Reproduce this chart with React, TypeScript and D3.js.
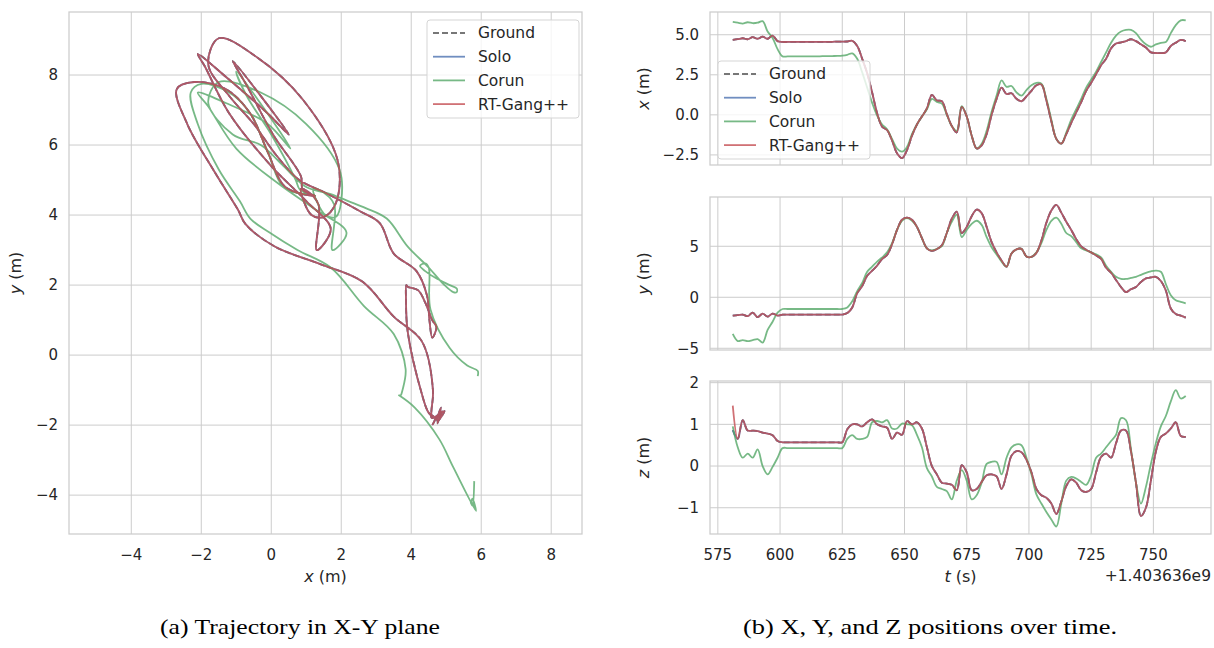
import * as d3 from "d3";

// samples every 2 s, t = 581 ... 763 (offset +1.403636e9)
const T_START = 581;
const T_STEP = 2;

const groundX = [
  4.68, 4.72, 4.78, 4.72, 4.85, 4.75, 4.88, 4.75, 4.95, 4.6,
  4.55, 4.55, 4.55, 4.55, 4.55, 4.55, 4.55, 4.55, 4.55, 4.56,
  4.56, 4.57, 4.57, 4.58, 4.62, 4.3, 3.5, 2.6, 1.4, 0.1,
  -0.74, -0.95, -1.6, -2.4, -2.7, -2.2, -1.3, -0.6, -0.1, 0.4,
  1.25, 0.9, 0.85, 0.05, -0.7, -1.1, 0.5, -0.1, -1.3, -2.1,
  -1.9, -1.2, 0.0, 1.0, 1.7, 1.3, 1.35, 1.0, 0.85, 1.15,
  1.5, 1.85, 1.9, 0.9, -0.4, -1.5, -1.8, -1.2, -0.5, 0.15,
  0.8, 1.5, 2.0, 2.55, 3.1, 3.5, 4.15, 4.45, 4.52, 4.6,
  4.72, 4.6, 4.4, 4.2, 3.9, 3.86, 3.85, 3.9, 4.3, 4.5,
  4.68, 4.6,
];
const groundY = [
  -1.8, -1.75, -1.7, -1.85, -1.5, -1.95, -1.6, -1.9, -1.6, -1.8,
  -1.7, -1.7, -1.7, -1.7, -1.7, -1.7, -1.7, -1.7, -1.7, -1.7,
  -1.7, -1.7, -1.7, -1.55, -1.0, 0.4, 1.1, 2.1, 2.6, 3.1,
  3.75, 4.15, 5.2, 6.6, 7.6, 7.8, 7.6, 6.9, 5.8, 4.8,
  4.55, 4.72, 5.1, 6.3, 7.7, 8.4, 6.3, 6.9, 7.95, 8.6,
  8.25, 6.9, 5.4, 4.4, 3.6, 3.0, 4.3, 4.7, 4.75, 4.0,
  3.95, 4.35, 5.55, 7.3, 8.5, 9.05, 8.3, 7.4, 6.6, 5.7,
  5.0, 4.66, 4.4, 4.1, 3.77, 2.9, 2.4, 1.7, 1.0, 0.5,
  0.8, 1.0, 1.5, 1.85, 1.95, 2.0, 1.6, 0.66, -1.1, -1.65,
  -1.8, -2.0,
];
const groundZ = [
  0.86, 0.65, 1.1, 0.85, 0.85, 0.84, 0.8, 0.78, 0.74, 0.6,
  0.57, 0.57, 0.57, 0.57, 0.57, 0.57, 0.57, 0.57, 0.57, 0.57,
  0.57, 0.57, 0.57, 0.88, 1.0, 1.0, 0.95, 1.05, 1.12, 1.0,
  0.95, 0.92, 0.65, 0.8, 0.75, 1.08, 1.0, 1.05, 0.9, 0.45,
  0.0, -0.2, -0.4, -0.42, -0.45, -0.58, 0.02, -0.15, -0.58, -0.55,
  -0.38, -0.22, -0.2, -0.25, -0.55, -0.2, 0.25, 0.36, 0.33, 0.15,
  -0.15, -0.55, -0.7, -0.76, -0.9, -1.15, -0.85, -0.48, -0.32, -0.4,
  -0.58, -0.62, -0.55, -0.15, 0.22, 0.3, 0.2, 0.55, 0.85, 0.85,
  0.35, -0.4, -1.2, -1.0, -0.35, 0.35, 0.7, 0.78, 0.9, 1.05,
  0.72, 0.7,
];

const corunX = [
  5.8, 5.75, 5.7, 5.78, 5.72, 5.75, 5.85, 5.2, 4.8, 4.1,
  3.65, 3.65, 3.65, 3.65, 3.65, 3.65, 3.65, 3.65, 3.66, 3.66,
  3.67, 3.68, 3.7, 3.75, 3.84, 3.5, 2.65, 1.7, 0.75, -0.05,
  -0.6, -0.9, -1.5, -2.1, -2.3, -2.0, -1.2, -0.6, -0.1, 0.35,
  1.0, 0.8, 0.7, 0.0, -0.7, -1.0, 0.55, -0.1, -1.3, -2.1,
  -1.8, -1.0, 0.2, 1.2, 2.15, 1.75, 1.8, 1.4, 1.2, 1.55,
  1.85, 2.0, 1.95, 1.0, -0.3, -1.5, -1.8, -1.1, -0.3, 0.35,
  1.0, 1.7, 2.2, 2.7, 3.3, 3.9, 4.5, 4.95, 5.2, 5.3,
  5.3, 5.1, 4.7, 4.4, 4.25, 4.4, 4.5, 4.55, 5.1, 5.6,
  5.9, 5.9,
];
const corunY = [
  -3.6, -4.3, -4.2, -4.3, -4.2, -4.1, -4.45, -3.2, -2.4, -1.5,
  -1.15, -1.15, -1.15, -1.15, -1.15, -1.15, -1.15, -1.15, -1.15, -1.15,
  -1.15, -1.15, -1.15, -1.0, -0.4, 0.6, 1.4, 2.5, 3.0, 3.5,
  3.9, 4.4, 5.3, 6.6, 7.5, 7.75, 7.5, 6.9, 5.8, 4.8,
  4.6, 4.75, 5.0, 6.3, 7.4, 8.1, 5.9, 6.6, 7.2, 7.5,
  7.1, 5.9, 4.9, 4.2, 3.5, 3.0, 4.3, 4.7, 4.75, 4.0,
  3.95, 4.4, 5.3, 6.6, 7.5, 7.8, 7.2, 6.3, 6.0, 5.4,
  4.8, 4.6, 4.4, 4.2, 3.9, 3.1, 2.5, 2.0, 1.8, 1.8,
  1.9, 2.0, 2.2, 2.4, 2.55, 2.62, 2.5, 1.3, 0.2, -0.3,
  -0.45, -0.6,
];
const corunZ = [
  0.95, 0.45, 0.2, 0.3, 0.2, 0.4, 0.0, -0.2, -0.02, 0.2,
  0.43, 0.43, 0.43, 0.43, 0.43, 0.43, 0.43, 0.43, 0.43, 0.43,
  0.43, 0.43, 0.43, 0.65, 0.74, 0.65, 0.65, 0.7, 1.05, 1.08,
  1.05, 1.1, 0.9, 0.9, 1.02, 1.0, 0.98, 0.75, 0.45, -0.05,
  -0.25, -0.5, -0.55, -0.6, -0.8, -0.35, -0.1, -0.35, -0.8, -0.7,
  -0.4, 0.05, 0.1, 0.1, -0.2, 0.2, 0.45, 0.52, 0.5, 0.2,
  -0.2, -0.68, -0.9, -1.1, -1.28, -1.45, -0.9, -0.35, -0.26, -0.3,
  -0.38, -0.45, -0.22, 0.2, 0.3, 0.45, 0.6, 0.75, 1.15, 1.1,
  0.4, -0.4, -0.9, -0.5, 0.05, 0.55, 0.95, 1.2, 1.55, 1.82,
  1.62, 1.68,
];

// Solo and RT-Gang++ follow the ground truth; RT-Gang++ has a spike at start in z
const soloX = groundX;
const soloY = groundY;
const soloZ = groundZ;
const rtgangX = groundX;
const rtgangY = groundY;
const rtgangZ = [1.45, ...groundZ.slice(1)];

const seriesNames = ["Ground", "Solo", "Corun", "RT-Gang++"];
const trajTicks = [-4, -2, 0, 2, 4, 6, 8];
const timeTicks = [575, 600, 625, 650, 675, 700, 725, 750];
const xPosTicks = [-2.5, 0, 2.5, 5];
const yPosTicks = [-5, 0, 5];
const zPosTicks = [-1, 0, 1, 2];

const GRID = "#cccccc";
const TEXT = "#262626";
const FONT = "DejaVu Sans, sans-serif";

const series = [
  { name: seriesNames[0], color: "#555555", dash: "6,3", x: groundX, y: groundY, z: groundZ },
  { name: seriesNames[1], color: "#4c72b0", dash: null, x: soloX, y: soloY, z: soloZ },
  { name: seriesNames[2], color: "#55a868", dash: null, x: corunX, y: corunY, z: corunZ },
  { name: seriesNames[3], color: "#c44e52", dash: null, x: rtgangX, y: rtgangY, z: rtgangZ },
];

const Legend = ({ x, y }: { x: number; y: number }) => (
  <g transform={`translate(${x},${y})`}>
    <rect width={152} height={98} rx={3} fill="white" fillOpacity={0.8} stroke="#d5d5d5" />
    {series.map((s, i) => (
      <g key={s.name} transform={`translate(0,${13 + i * 23.7})`}>
        <line x1={6} x2={38} stroke={s.color} strokeWidth={1.8} strokeOpacity={0.8}
          strokeDasharray={s.dash ?? undefined} />
        <text x={51} dy="0.35em" fontSize={15.5} fill={TEXT}>{s.name}</text>
      </g>
    ))}
  </g>
);

export default function App() {
  const times = groundX.map((_, i) => T_START + i * T_STEP);

  // (a) trajectory
  const L = { left: 69, right: 582, top: 12, bottom: 534 };
  const xs = d3.scaleLinear().domain([-5.78, 8.88]).range([L.left, L.right]);
  const ys = d3.scaleLinear().domain([-5.11, 9.8]).range([L.bottom, L.top]);
  const trajLine = d3.line<[number, number]>()
    .x(d => xs(d[0])).y(d => ys(d[1]))
    .curve(d3.curveCatmullRom.alpha(0.5));

  // (b) positions over time
  const R = { left: 710, right: 1211 };
  const ts = d3.scaleLinear().domain([571.85, 773.15]).range([R.left, R.right]);
  const panels = [
    { key: "x", label: "x", top: 12, bottom: 165, domain: [-3.13, 6.42], ticks: xPosTicks, fmt: d3.format(".1f") },
    { key: "y", label: "y", top: 197, bottom: 350, domain: [-5.17, 9.83], ticks: yPosTicks, fmt: d3.format("d") },
    { key: "z", label: "z", top: 381, bottom: 534, domain: [-1.63, 2.04], ticks: zPosTicks, fmt: d3.format("d") },
  ] as const;

  return (
    <svg width={1214} height={648} style={{ position: "absolute", left: 0, top: 0, background: "white" }}
      fontFamily={FONT}>
      <defs>
        <clipPath id="clip-a">
          <rect x={L.left} y={L.top} width={L.right - L.left} height={L.bottom - L.top} />
        </clipPath>
        {panels.map(p => (
          <clipPath key={p.key} id={`clip-${p.key}`}>
            <rect x={R.left} y={p.top} width={R.right - R.left} height={p.bottom - p.top} />
          </clipPath>
        ))}
      </defs>

      {/* ---- (a) trajectory in X-Y plane ---- */}
      <g>
        {trajTicks.map(t => (
          <g key={"vx" + t}>
            <line x1={xs(t)} x2={xs(t)} y1={L.top} y2={L.bottom} stroke={GRID} />
            <text x={xs(t)} y={560} textAnchor="middle" fontSize={15} fill={TEXT}>{d3.format("d")(t)}</text>
          </g>
        ))}
        {trajTicks.map(t => (
          <g key={"hy" + t}>
            <line x1={L.left} x2={L.right} y1={ys(t)} y2={ys(t)} stroke={GRID} />
            <text x={58} y={ys(t)} dy="0.35em" textAnchor="end" fontSize={15} fill={TEXT}>{d3.format("d")(t)}</text>
          </g>
        ))}
        <g clipPath="url(#clip-a)">
          {series.map(s => (
            <path key={s.name} d={trajLine(s.x.map((v, i) => [v, s.y[i]] as [number, number])) ?? ""}
              fill="none" stroke={s.color} strokeWidth={1.8} strokeOpacity={0.8}
              strokeDasharray={s.dash ?? undefined} strokeLinejoin="round" />
          ))}
        </g>
        <rect x={L.left} y={L.top} width={L.right - L.left} height={L.bottom - L.top}
          fill="none" stroke={GRID} strokeWidth={1.25} />
        <text x={(L.left + L.right) / 2} y={582} textAnchor="middle" fontSize={16} fill={TEXT}>
          <tspan fontStyle="italic">x</tspan> (m)
        </text>
        <text transform={`translate(21,${(L.top + L.bottom) / 2}) rotate(-90)`} textAnchor="middle"
          fontSize={16} fill={TEXT}>
          <tspan fontStyle="italic">y</tspan> (m)
        </text>
        <Legend x={427} y={20} />
      </g>

      {/* ---- (b) X, Y, Z over time ---- */}
      {panels.map(p => {
        const vs = d3.scaleLinear().domain(p.domain as unknown as number[]).range([p.bottom, p.top]);
        const line = d3.line<[number, number]>()
          .x(d => ts(d[0])).y(d => vs(d[1]))
          .curve(d3.curveCatmullRom.alpha(0.5));
        return (
          <g key={p.key}>
            {timeTicks.map(t => (
              <line key={t} x1={ts(t)} x2={ts(t)} y1={p.top} y2={p.bottom} stroke={GRID} />
            ))}
            {p.ticks.map(v => (
              <g key={v}>
                <line x1={R.left} x2={R.right} y1={vs(v)} y2={vs(v)} stroke={GRID} />
                <text x={699} y={vs(v)} dy="0.35em" textAnchor="end" fontSize={15} fill={TEXT}>{p.fmt(v)}</text>
              </g>
            ))}
            <g clipPath={`url(#clip-${p.key})`}>
              {series.map(s => {
                const vals = s[p.key as "x" | "y" | "z"];
                return (
                  <path key={s.name} d={line(times.map((t, i) => [t, vals[i]] as [number, number])) ?? ""}
                    fill="none" stroke={s.color} strokeWidth={1.8} strokeOpacity={0.8}
                    strokeDasharray={s.dash ?? undefined} strokeLinejoin="round" />
                );
              })}
            </g>
            <rect x={R.left} y={p.top} width={R.right - R.left} height={p.bottom - p.top}
              fill="none" stroke={GRID} strokeWidth={1.25} />
            <text transform={`translate(649,${(p.top + p.bottom) / 2}) rotate(-90)`} textAnchor="middle"
              fontSize={16} fill={TEXT}>
              <tspan fontStyle="italic">{p.label}</tspan> (m)
            </text>
          </g>
        );
      })}
      {timeTicks.map(t => (
        <text key={t} x={ts(t)} y={560} textAnchor="middle" fontSize={15} fill={TEXT}>{t}</text>
      ))}
      <text x={(R.left + R.right) / 2} y={582} textAnchor="middle" fontSize={16} fill={TEXT}>
        <tspan fontStyle="italic">t</tspan> (s)
      </text>
      <text x={R.right} y={581} textAnchor="end" fontSize={15.5} fill={TEXT}>+1.403636e9</text>
      <Legend x={718} y={61} />

      {/* captions */}
      <text x={300} y={634} textAnchor="middle" fontFamily="Liberation Serif, serif" fontSize={22} fill="black"
        textLength={280} lengthAdjust="spacingAndGlyphs">
        (a) Trajectory in X-Y plane
      </text>
      <text x={930} y={634} textAnchor="middle" fontFamily="Liberation Serif, serif" fontSize={22} fill="black"
        textLength={374} lengthAdjust="spacingAndGlyphs">
        (b) X, Y, and Z positions over time.
      </text>
    </svg>
  );
}
